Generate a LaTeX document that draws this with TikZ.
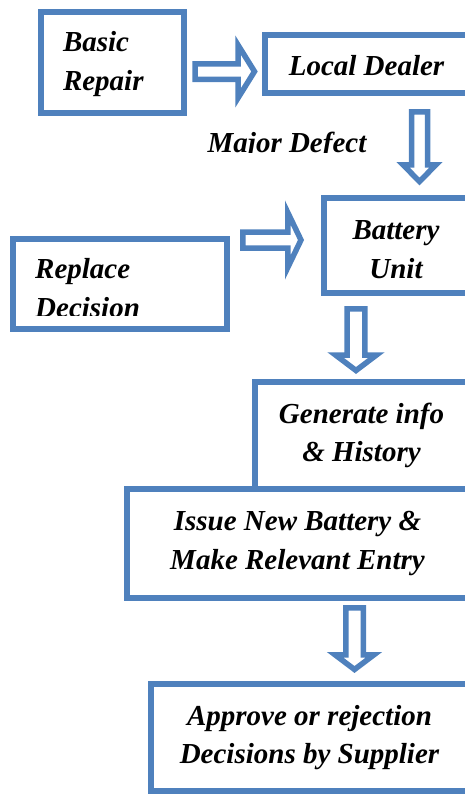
\documentclass[tikz,border=0pt]{standalone}
\usepackage{fontspec}
\setmainfont{Liberation Serif}
\definecolor{boxblue}{RGB}{79,129,189}
\tikzset{
  box/.style={draw=boxblue, line width=6pt, fill=white, rectangle, inner sep=0pt,
    font=\fontsize{29}{38.5}\selectfont\bfseries\itshape, align=center},
  barrow/.style={draw=boxblue, line width=5.5pt, fill=white, line join=miter},
  lbl/.style={font=\fontsize{29}{38.5}\selectfont\bfseries\itshape, inner sep=0pt}
}
% #1 x start, #2 head base x, #3 tip x, #4 centre y, #5 shaft half, #6 head half
\newcommand\blkright[6]{\draw[barrow] (#1,#4-#5) -- (#2,#4-#5) -- (#2,#4-#6) -- (#3,#4) -- (#2,#4+#6) -- (#2,#4+#5) -- (#1,#4+#5) -- cycle;}
% #1 centre x, #2 top y, #3 head base y, #4 tip y, #5 shaft half, #6 head half
\newcommand\blkdown[6]{\draw[barrow] (#1-#5,#2) -- (#1+#5,#2) -- (#1+#5,#3) -- (#1+#6,#3) -- (#1,#4) -- (#1-#6,#3) -- (#1-#5,#3) -- cycle;}
\newcommand\topstrut[1]{\rule{0pt}{#1}}
\begin{document}
\begin{tikzpicture}[x=1pt,y=-1pt]
\useasboundingbox (0,0) rectangle (465,795);
\clip (0,0) rectangle (465,795);

% boxes
\node[box, minimum width=143pt, minimum height=101pt, text width=99pt, align=left] (basic) at (112.5,62.5) {\topstrut{23.5pt}Basic\\Repair};
\node[box, minimum width=203pt, minimum height=58pt] (local) at (366.5,64) {\topstrut{24pt}Local Dealer};
\node[box, minimum width=144pt, minimum height=95pt] (battery) at (396,245.5) {\topstrut{27.5pt}Battery\\Unit};
\node[box, minimum width=214pt, minimum height=90pt] (replace) at (120,284) {};
\begin{scope}
  \clip (0,0) rectangle (465,315);
  \node[lbl, align=left, anchor=west] (replacetxt) at (35,288) {Replace\\Decision};
\end{scope}
\node[box, minimum width=213pt, minimum height=107pt] (generate) at (361.5,435.5) {Generate info\\\& History};
\node[box, minimum width=341pt, minimum height=109pt] (issue) at (297.5,543.5) {Issue New Battery \&\\Make Relevant Entry};
\node[box, minimum width=317pt, minimum height=107pt] (approve) at (309.5,737.5) {Approve or rejection\\Decisions by Supplier};

% label
\begin{scope}
  \clip (0,0) rectangle (465,152);
  \node[lbl, anchor=base] (major) at (287,152) {Major Defect};
\end{scope}

% block arrows
\blkright{195}{238}{254.5}{71.5}{7.75}{26.5}
\blkdown{419.5}{111.75}{164.75}{181.5}{8}{16.5}
\blkright{242.75}{287.75}{301}{240}{8}{27.5}
\blkdown{356}{308.75}{355}{370.5}{8.9}{20.5}
\blkdown{354.5}{607.75}{654.75}{669.5}{8.75}{19.5}
\end{tikzpicture}
\end{document}
